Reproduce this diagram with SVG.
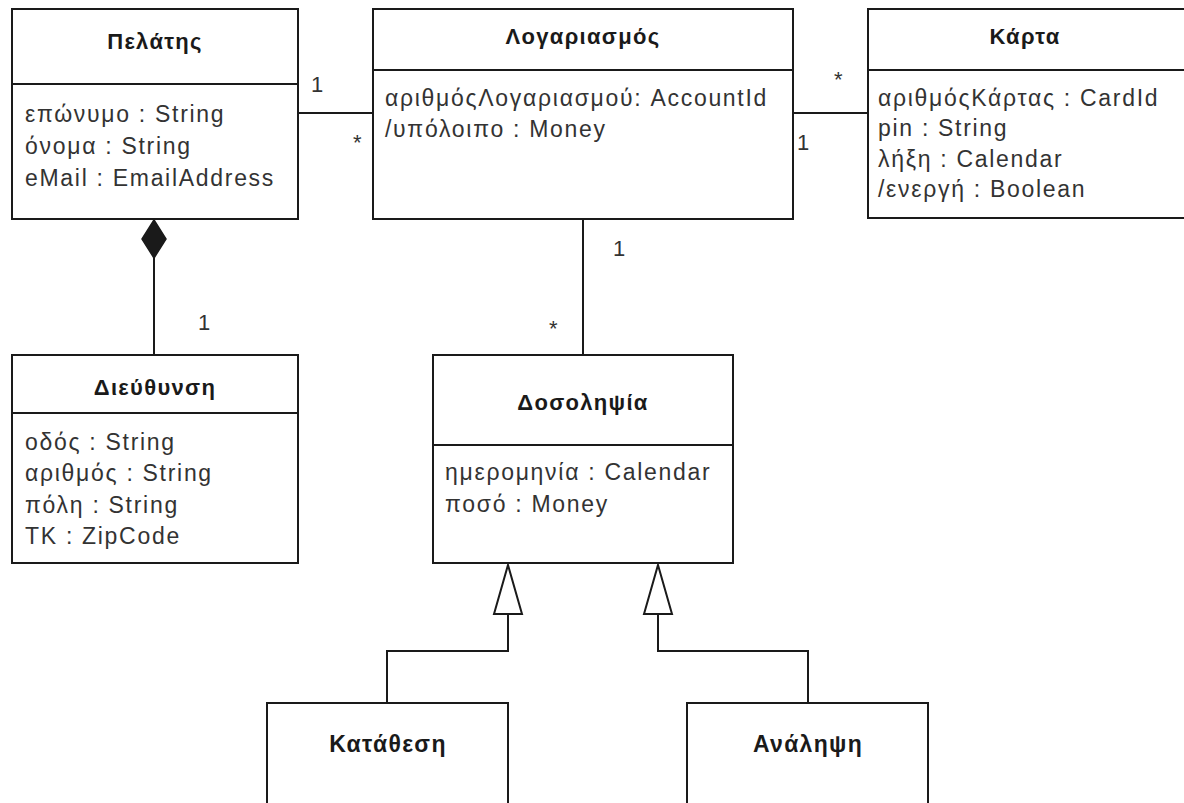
<svg xmlns="http://www.w3.org/2000/svg" width="1184" height="803" viewBox="0 0 1184 803">
  <style>
    .box { fill: #ffffff; stroke: #1a1a1a; stroke-width: 2; }
    .div { stroke: #1a1a1a; stroke-width: 2; }
    .title { font-family: "Liberation Sans", Arial, sans-serif; font-weight: bold; font-size: 22px; letter-spacing: 1.3px; fill: #1a1a1a; text-anchor: middle; }
    .attr { font-family: "Liberation Sans", Arial, sans-serif; font-size: 23px; letter-spacing: 1.7px; fill: #333333; }
    .mult { font-family: "Liberation Sans", Arial, sans-serif; font-size: 22px; fill: #333333; }
    .line { fill: none; stroke: #1a1a1a; stroke-width: 2; }
  </style>
  <rect width="1184" height="803" fill="#ffffff"/>

  <g id="connectors">
    <line class="line" x1="298" y1="113" x2="373" y2="113"/>
    <line class="line" x1="793" y1="113" x2="868" y2="113"/>
    <line class="line" x1="583" y1="219" x2="583" y2="355"/>
    <line class="line" x1="154" y1="258" x2="154" y2="355"/>
    <path d="M154,220 L166,239 L154,258 L142,239 Z" fill="#1a1a1a" stroke="#1a1a1a" stroke-width="1.5"/>
    <polyline class="line" points="508,614 508,651 387,651 387,703"/>
    <path d="M508,565 L522,614 L494,614 Z" fill="#ffffff" stroke="#1a1a1a" stroke-width="2"/>
    <polyline class="line" points="658,614 658,651 808,651 808,703"/>
    <path d="M658,565 L672,614 L644,614 Z" fill="#ffffff" stroke="#1a1a1a" stroke-width="2"/>
    <text class="mult" x="311" y="92">1</text>
    <text class="mult" x="353" y="150">*</text>
    <text class="mult" x="834" y="87">*</text>
    <text class="mult" x="797" y="150">1</text>
    <text class="mult" x="613" y="256">1</text>
    <text class="mult" x="549" y="336">*</text>
    <text class="mult" x="198" y="330">1</text>
  </g>

  <g id="pelatis">
    <rect class="box" x="12" y="9" width="286" height="210"/>
    <line class="div" x1="12" y1="84" x2="298" y2="84"/>
    <text class="title" x="155" y="49">Πελάτης</text>
    <text class="attr" x="25" y="122">επώνυμο : String</text>
    <text class="attr" x="25" y="154">όνομα : String</text>
    <text class="attr" x="25" y="186">eMail : EmailAddress</text>
  </g>

  <g id="logariasmos">
    <rect class="box" x="373" y="9" width="420" height="210"/>
    <line class="div" x1="373" y1="70" x2="793" y2="70"/>
    <text class="title" x="583" y="44">Λογαριασμός</text>
    <text class="attr" x="385" y="106">αριθμόςΛογαριασμού: AccountId</text>
    <text class="attr" x="385" y="137">/υπόλοιπο : Money</text>
  </g>

  <g id="karta">
    <rect class="box" x="868" y="9" width="330" height="209"/>
    <line class="div" x1="868" y1="70" x2="1198" y2="70"/>
    <text class="title" x="1025" y="44">Κάρτα</text>
    <text class="attr" x="878" y="106">αριθμόςΚάρτας : CardId</text>
    <text class="attr" x="878" y="136">pin : String</text>
    <text class="attr" x="878" y="167">λήξη : Calendar</text>
    <text class="attr" x="878" y="197">/ενεργή : Boolean</text>
  </g>

  <g id="dieythynsi">
    <rect class="box" x="12" y="355" width="286" height="208"/>
    <line class="div" x1="12" y1="413" x2="298" y2="413"/>
    <text class="title" x="155" y="395">Διεύθυνση</text>
    <text class="attr" x="25" y="450">οδός : String</text>
    <text class="attr" x="25" y="481">αριθμός : String</text>
    <text class="attr" x="25" y="513">πόλη : String</text>
    <text class="attr" x="25" y="544">TK : ZipCode</text>
  </g>

  <g id="dosolipsia">
    <rect class="box" x="433" y="355" width="300" height="208"/>
    <line class="div" x1="433" y1="445" x2="733" y2="445"/>
    <text class="title" x="583" y="410">Δοσοληψία</text>
    <text class="attr" x="445" y="480">ημερομηνία : Calendar</text>
    <text class="attr" x="445" y="512">ποσό : Money</text>
  </g>

  <g id="katathesi">
    <rect class="box" x="267" y="703" width="241" height="110"/>
    <text class="title" x="388" y="752" style="font-size:23px">Κατάθεση</text>
  </g>

  <g id="analipsi">
    <rect class="box" x="687" y="703" width="241" height="110"/>
    <text class="title" x="808" y="752" style="font-size:23px">Ανάληψη</text>
  </g>
</svg>
